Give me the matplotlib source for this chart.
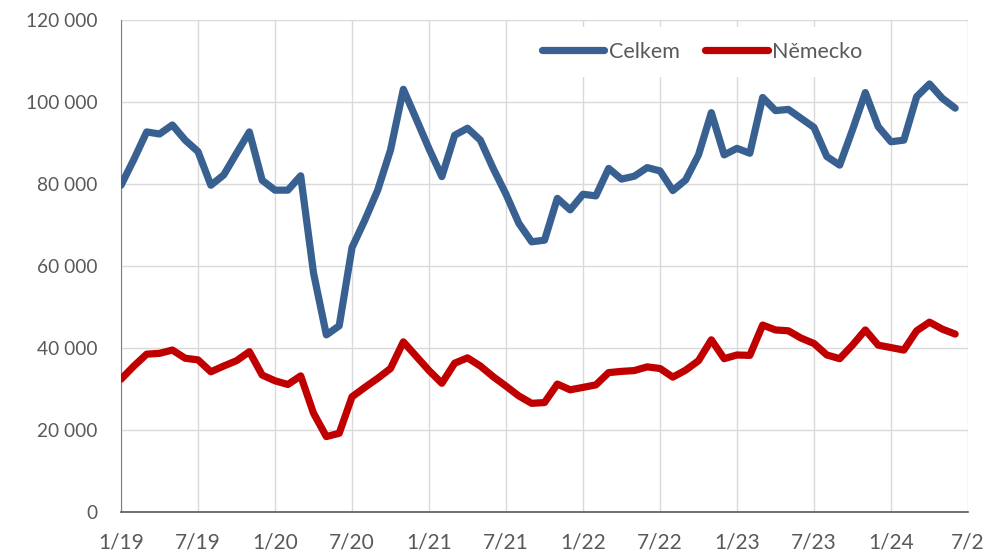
import matplotlib.pyplot as plt
from matplotlib.ticker import FuncFormatter

# monthly values, 1/2019 .. 6/2024
celkem = [
    79700, 86000, 92700, 92200, 94400, 90700, 87900, 79700, 82200, 87500, 92700, 80900,
    78500, 78500, 82000, 58300, 43200, 45400, 64500, 71200, 78500, 88300, 103100, 95900,
    88600, 81800, 91900, 93600, 90700, 83800, 77500, 70400, 65900, 66300, 76500, 73700,
    77500, 77100, 83800, 81200, 81900, 84000, 83200, 78400, 81000, 87100, 97400, 87100,
    88700, 87500, 101100, 97900, 98200, 96000, 93800, 86700, 84600, 93200, 102300, 94000,
    90300, 90700, 101300, 104400, 100900, 98500,
]
nemecko = [
    32400, 35600, 38500, 38700, 39500, 37500, 37100, 34200, 35600, 36900, 39100, 33400,
    32000, 31100, 33200, 24100, 18400, 19200, 28100, 30400, 32600, 35000, 41500, 38000,
    34500, 31400, 36300, 37600, 35600, 33000, 30700, 28300, 26500, 26700, 31200, 29800,
    30400, 31000, 34000, 34300, 34500, 35400, 35000, 32900, 34600, 36900, 42000, 37400,
    38300, 38200, 45600, 44400, 44200, 42400, 41100, 38300, 37400, 40700, 44400, 40700,
    40100, 39500, 44200, 46300, 44600, 43400,
]
tick_labels = ["1/19", "7/19", "1/20", "7/20", "1/21", "7/21", "1/22", "7/22",
               "1/23", "7/23", "1/24", "7/2"]

plt.rcParams["font.family"] = ["Lato", "DejaVu Sans"]

fig = plt.figure(figsize=(9.97, 5.54), dpi=100)
ax = fig.add_axes([0.1214, 0.0758, 0.8495, 0.8881])

months = list(range(len(celkem)))
ax.plot(months, celkem, color="#386192", lw=5.2, solid_joinstyle="round",
        solid_capstyle="round", label="Celkem", zorder=3)
ax.plot(months, nemecko, color="#C00000", lw=5.2, solid_joinstyle="round",
        solid_capstyle="round", label="Německo", zorder=3)

ax.set_xlim(0, 66)
ax.set_ylim(0, 120000)
ax.set_xticks(range(0, 67, 6))
ax.set_xticklabels(tick_labels)
ax.set_yticks(range(0, 120001, 20000))
ax.yaxis.set_major_formatter(FuncFormatter(lambda v, p: f"{int(v):,}".replace(",", " ")))

ax.grid(True, color="#D9D9D9", lw=1)
ax.set_axisbelow(True)
for s in ["top", "right"]:
    ax.spines[s].set_visible(False)
ax.spines["left"].set_color("#7F7F7F")
ax.spines["bottom"].set_color("#595959")
ax.spines["bottom"].set_linewidth(1.2)
ax.tick_params(length=0, labelcolor="#595959")
ax.tick_params(axis="y", pad=17, labelsize=13.8)
ax.tick_params(axis="x", pad=15, labelsize=15)

leg = ax.legend(loc="upper center", bbox_to_anchor=(0.686, 1.008), ncol=2,
                fontsize=15.5, handlelength=2.9, handletextpad=0.2,
                columnspacing=1.2, frameon=True, facecolor="white",
                edgecolor="none", framealpha=1, fancybox=False,
                borderpad=0.7)
for t in leg.get_texts():
    t.set_color("#595959")

fig.savefig("out.png", dpi=100)
